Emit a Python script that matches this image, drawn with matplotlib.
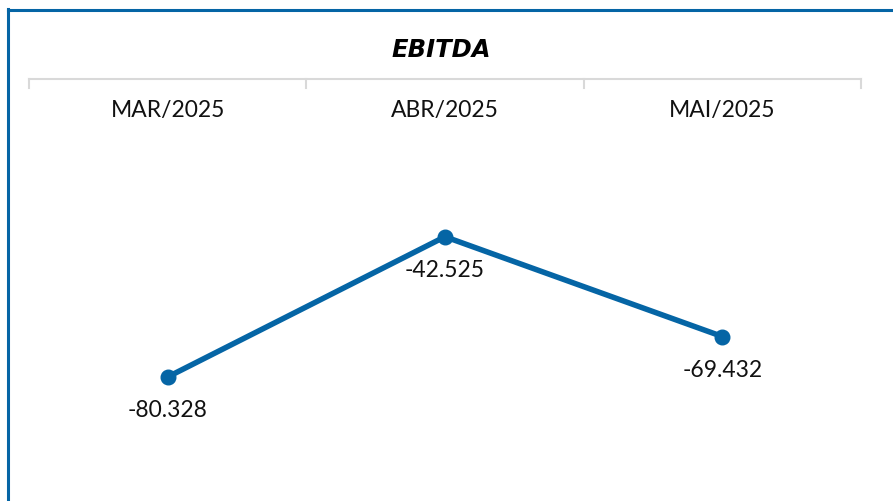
import matplotlib.pyplot as plt
from matplotlib.lines import Line2D

meses = ["MAR/2025", "ABR/2025", "MAI/2025"]
ebitda = [-80.328, -42.525, -69.432]
rotulos = ["-80.328", "-42.525", "-69.432"]

plt.rcParams['font.family'] = ['Lato', 'DejaVu Sans']

W, H = 893, 501
fig = plt.figure(figsize=(W / 100, H / 100), dpi=100)
azul = "#0565A5"
cinza = "#d9d9d9"
texto = "#111111"

# moldura azul (só esquerda e topo aparecem)
fig.add_artist(Line2D([8 / W, 8 / W], [0, 1 - 9 / H], color=azul, lw=2.2))
fig.add_artist(Line2D([8 / W, 1], [1 - 10 / H, 1 - 10 / H], color=azul, lw=2.2))

top = 79
bottom = 487
ax = fig.add_axes([29 / W, 1 - bottom / H, (861 - 29) / W, (bottom - top) / H])
x = list(range(len(meses)))
ax.plot(x, ebitda, color=azul, lw=4, marker="o", markersize=10.5)
ax.set_xlim(-0.5, 2.5)
ax.set_ylim(-110, 0)

for xi, v, r in zip(x, ebitda, rotulos):
    ax.annotate(r, (xi, v), xytext=(0, -24.5), textcoords="offset points",
                ha="center", va="center", fontsize=16.5, color=texto)

# eixo de categorias no topo, rótulos abaixo da linha
for s in ["left", "right", "bottom"]:
    ax.spines[s].set_visible(False)
ax.spines["top"].set_color(cinza)
ax.spines["top"].set_linewidth(1.5)
ax.set_xticks([])
ax.set_yticks([])
for xt in [-0.5, 0.5, 1.5, 2.5]:
    ax.plot([xt, xt], [0, -2.3], color=cinza, lw=1.5, clip_on=False)
for xi, m in zip(x, meses):
    ax.annotate(m, (xi, 0), xytext=(0, -23), textcoords="offset points",
                ha="center", va="center", fontsize=16.5, color=texto)

fig.text(441 / W, 1 - 50 / H, "EBITDA", ha="center", va="center",
         fontsize=17.5, fontweight="bold", fontstyle="italic", color="#000000",
         family="DejaVu Sans")

fig.savefig("out.png", dpi=100)
